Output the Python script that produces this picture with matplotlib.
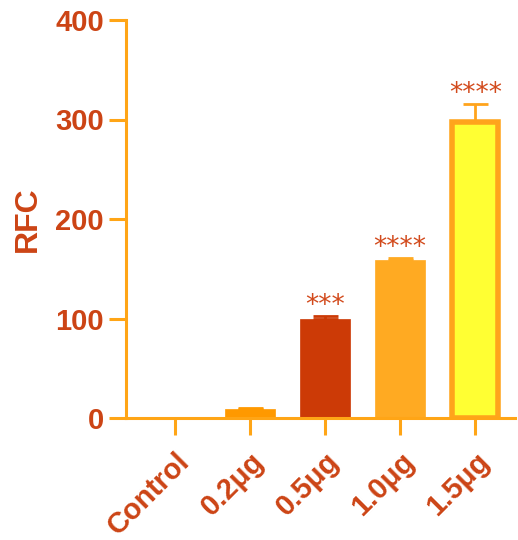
import matplotlib.pyplot as plt

# RFC per dose
groups = ['Control', '0.2μg', '0.5μg', '1.0μg', '1.5μg']
rfc = [0, 9, 99, 159, 297]
sem = [0, 1.5, 4, 2, 19]
stars = ['', '', '***', '****', '****']

bar_colors = ['#FF9900', '#FF9900', '#CC3A06', '#FFAA22', '#FFFF33']
edge_colors = ['#FF9900', '#FF9900', '#CC3A06', '#FFAA22', '#FFA41C']
err_colors = ['#FF9900', '#FF9900', '#CC3A06', '#FFAA22', '#FFA41C']
text_color = '#CC4415'
axis_color = '#FFA516'

plt.rcParams['font.family'] = ['Liberation Sans', 'DejaVu Sans']
plt.rcParams['font.weight'] = 'bold'

fig = plt.figure(figsize=(5.18, 5.40), dpi=100)
ax = fig.add_axes([126 / 518, 1 - 418 / 540, (515 - 126) / 518, (418 - 20) / 540])

x = list(range(len(groups)))
for i in x:
    lw = 4 if i == 4 else 0.5
    w = 0.62 if i == 4 else 0.667
    ax.bar(i, rfc[i], width=w, color=bar_colors[i], edgecolor=edge_colors[i],
           linewidth=lw, zorder=2)
    if sem[i] > 0:
        ax.errorbar(i, rfc[i], yerr=[[0], [sem[i]]], fmt='none',
                    ecolor=err_colors[i], elinewidth=2, capsize=9, capthick=2,
                    zorder=3)
    if stars[i]:
        ax.text(i, rfc[i] + sem[i] + 10, stars[i], ha='center', va='center',
                fontsize=19, color='#D24A1C', family='DejaVu Sans',
                fontweight='normal')

ax.set_xlim(-0.653, 4.53)
ax.set_ylim(0, 400)
ax.set_yticks([0, 100, 200, 300, 400])
ax.set_xticks(x)
ax.set_xticklabels(groups, rotation=45, ha='right', rotation_mode='anchor')

for side in ['top', 'right']:
    ax.spines[side].set_visible(False)
for side in ['left', 'bottom']:
    ax.spines[side].set_color(axis_color)
    ax.spines[side].set_linewidth(2.2)

ax.tick_params(axis='both', colors=axis_color, width=2.2, length=12,
               labelcolor=text_color, labelsize=21)
ax.tick_params(axis='y', pad=4)
ax.tick_params(axis='x', pad=9)
ax.set_ylabel('RFC', color=text_color, fontsize=23, fontweight='bold', labelpad=9)

fig.savefig('out.png', dpi=100)
